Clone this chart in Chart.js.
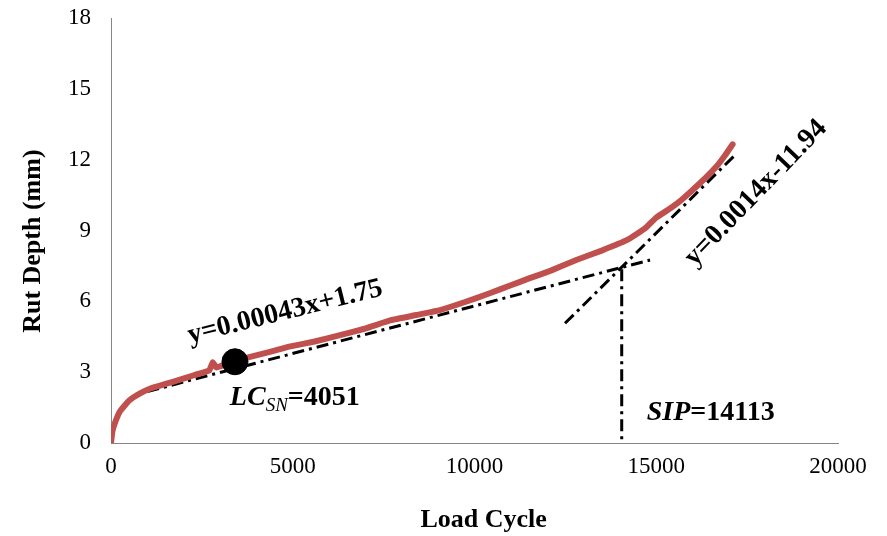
<!DOCTYPE html>
<html>
<head>
<meta charset="utf-8">
<script src="https://cdn.jsdelivr.net/npm/chart.js@4/dist/chart.umd.min.js"></script>
<style>
  body { margin: 0; background: #fff; }
  #wrap { width: 887px; height: 536px; }
</style>
</head>
<body>
<div id="wrap"><canvas id="rutChart"></canvas></div>
<script>
// Measured rut depth curve
const loadCycle = [0, 40, 120, 250, 500, 800, 1100, 1500, 1900, 2300, 2700, 2800, 2900, 3100, 3400,
    3800, 4400, 4900, 5600, 6300, 7000, 7700, 8400, 9050, 9700, 10400, 11000, 11500, 12100,
    12800, 13500, 14200, 14700, 15000, 15400, 15700, 16200, 16650, 16900, 17100];
const rutDepth = [0, 0.5, 0.9, 1.35, 1.8, 2.1, 2.32, 2.5, 2.68, 2.88, 3.07, 3.42, 3.2, 3.3, 3.46,
    3.64, 3.87, 4.08, 4.3, 4.57, 4.85, 5.2, 5.42, 5.63, 5.95, 6.33, 6.68, 6.97, 7.3,
    7.75, 8.15, 8.6, 9.1, 9.55, 9.95, 10.3, 11.0, 11.7, 12.2, 12.65];

// Fitted lines (as drawn)
const fit1X = [1000, 14830];
const fit1Y = [2.18, 7.75];
const fit2X = [12490, 17170];
const fit2Y = [5.07, 12.2];
const sipX = [14050, 14050];
const sipY = [7.36, 0];

// LC_SN marker
const lcX = [3410];
const lcY = [3.44];

const xTicks = [0, 5000, 10000, 15000, 20000];
const yTicks = [0, 3, 6, 9, 12, 15, 18];

const SERIF = "'Liberation Serif', 'Times New Roman', serif";
const RED = '#C0504D';
const AXIS_GRAY = '#868686';

function toPoints(xs, ys) {
    return xs.map((x, i) => ({ x: x, y: ys[i] }));
}

// annotation text, anchored in data units
const annotations = [
    { parts: [{ t: 'y=0.00043x+1.75', style: 'bold', size: 28 }], x: 2170, y: 4.22, angle: -14 },
    { parts: [{ t: 'y=0.0014x-11.94', style: 'bold', size: 28 }], x: 16050, y: 7.45, angle: -46 },
    { parts: [
        { t: 'LC', style: 'italic bold', size: 28 },
        { t: 'SN', style: 'italic', size: 19, dy: 6 },
        { t: '=4051', style: 'bold', size: 28 }
      ], x: 3270, y: 1.61, angle: 0 },
    { parts: [
        { t: 'SIP', style: 'italic bold', size: 28 },
        { t: '=14113', style: 'bold', size: 28 }
      ], x: 14740, y: 0.97, angle: 0 }
];

const annotationPlugin = {
    id: 'textNotes',
    afterDatasetsDraw(chart) {
        const ctx = chart.ctx;
        const xs = chart.scales.x;
        const ys = chart.scales.y;
        annotations.forEach(a => {
            ctx.save();
            ctx.translate(xs.getPixelForValue(a.x), ys.getPixelForValue(a.y));
            ctx.rotate(a.angle * Math.PI / 180);
            ctx.fillStyle = '#000';
            ctx.textBaseline = 'alphabetic';
            ctx.textAlign = 'left';
            let cx = 0;
            a.parts.forEach(p => {
                ctx.font = `${p.style} ${p.size}px ${SERIF}`;
                ctx.fillText(p.t, cx, p.dy || 0);
                cx += ctx.measureText(p.t).width;
            });
            ctx.restore();
        });

        // axis titles, placed a bit off-centre like the original
        ctx.save();
        ctx.font = `bold 26px ${SERIF}`;
        ctx.fillStyle = '#000';
        ctx.textAlign = 'center';
        ctx.textBaseline = 'middle';
        ctx.fillText('Load Cycle', xs.getPixelForValue(10250), chart.height - 16);
        ctx.translate(33, ys.getPixelForValue(8.55));
        ctx.rotate(-Math.PI / 2);
        ctx.fillText('Rut Depth (mm)', 0, 0);
        ctx.restore();
    }
};

const dashDot = [12, 5, 3, 5];

new Chart(document.getElementById('rutChart'), {
    type: 'scatter',
    data: {
        datasets: [
            {
                label: 'LCSN',
                data: toPoints(lcX, lcY),
                pointRadius: 13,
                pointBackgroundColor: '#000',
                pointBorderColor: '#000',
                showLine: false
            },
            {
                label: 'Rut depth',
                data: toPoints(loadCycle, rutDepth),
                showLine: true,
                borderColor: RED,
                borderWidth: 6,
                pointRadius: 0,
                tension: 0.1,
                borderJoinStyle: 'round',
                borderCapStyle: 'round'
            },
            {
                label: 'fit1',
                data: toPoints(fit1X, fit1Y),
                showLine: true,
                borderColor: '#000',
                borderWidth: 3,
                borderDash: dashDot,
                pointRadius: 0
            },
            {
                label: 'fit2',
                data: toPoints(fit2X, fit2Y),
                showLine: true,
                borderColor: '#000',
                borderWidth: 3,
                borderDash: dashDot,
                pointRadius: 0
            },
            {
                label: 'SIP',
                data: toPoints(sipX, sipY),
                showLine: true,
                borderColor: '#000',
                borderWidth: 3,
                borderDash: dashDot,
                pointRadius: 0
            }
        ]
    },
    options: {
        responsive: true,
        maintainAspectRatio: false,
        animation: false,
        layout: { padding: { top: 18, right: 49, left: 0, bottom: 0 } },
        plugins: {
            legend: { display: false },
            tooltip: { enabled: false }
        },
        scales: {
            x: {
                type: 'linear',
                min: 0,
                max: 20000,
                afterBuildTicks: axis => { axis.ticks = xTicks.map(v => ({ value: v })); },
                afterFit: axis => { axis.height = 93; },
                grid: { display: false, drawTicks: false },
                border: { color: AXIS_GRAY, width: 1 },
                ticks: {
                    padding: 10,
                    color: '#000',
                    maxRotation: 0,
                    font: { family: SERIF, size: 23 },
                    callback: v => String(v)
                }
            },
            y: {
                type: 'linear',
                min: 0,
                max: 18,
                afterBuildTicks: axis => { axis.ticks = yTicks.map(v => ({ value: v })); },
                afterFit: axis => {
                    axis.width = 111;
                    // tick padding would otherwise push the plot top down
                    axis.paddingTop = 0;
                },
                grid: { display: false, drawTicks: false },
                border: { color: AXIS_GRAY, width: 1 },
                ticks: {
                    padding: 20,
                    color: '#000',
                    font: { family: SERIF, size: 23 }
                }
            }
        }
    },
    plugins: [annotationPlugin]
});
</script>
</body>
</html>
